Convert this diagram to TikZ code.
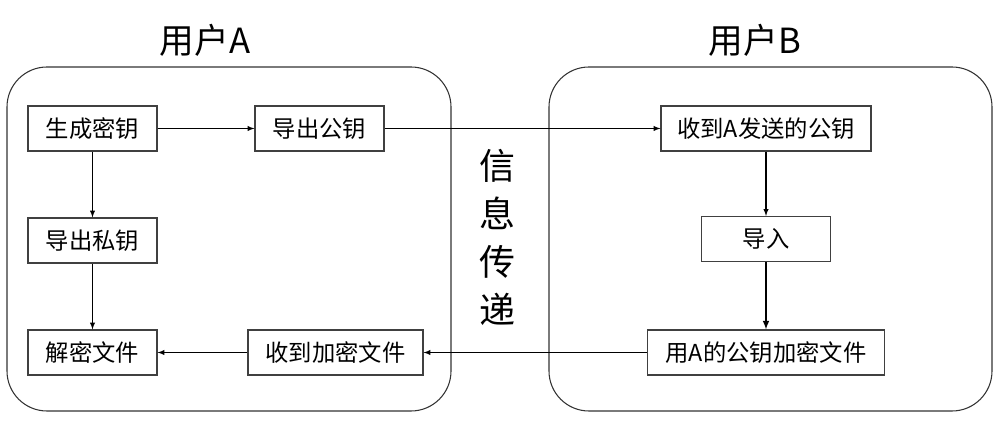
\documentclass[tikz,border=0pt]{standalone}
\usepackage{fontspec}
\setmainfont{Noto Sans CJK SC}
\usetikzlibrary{arrows}
\tikzset{
  stepbox/.style={draw=black!75, line width=0.8pt, inner sep=0pt, minimum height=33.75pt,
    font=\fontsize{17.5}{17.5}\selectfont},
  userbox/.style={draw=black!80, line width=0.8pt, rounded corners=30pt},
  flow/.style={-latex, line width=0.8pt},
}
\begin{document}
\begin{tikzpicture}[x=0.75pt,y=0.75pt,yscale=-1,xscale=1]
\useasboundingbox (0,0) rectangle (1007,423);

%Shape: Rounded Rect [user A]
\draw [userbox] (7,67) rectangle (451,411);
%Shape: Rounded Rect [user B]
\draw [userbox] (549,67) rectangle (992,411);

% Text Node
\node [font=\fontsize{26}{26}\selectfont] (titleA) at (205,40) {用户A};
% Text Node
\node [font=\fontsize{26}{26}\selectfont] (titleB) at (755,40) {用户B};
% Text Node
\node [font=\fontsize{27}{36}\selectfont, align=center] (trans) at (497,237) {信\\息\\传\\递};

% user A
\node [stepbox, minimum width=96.75pt] (genkey) at (92.5,128.5) {生成密钥};
\node [stepbox, minimum width=96.75pt] (pubout) at (319.5,128.5) {导出公钥};
\node [stepbox, minimum width=96.75pt] (privout) at (92.5,240.5) {导出私钥};
\node [stepbox, minimum width=96.75pt] (decrypt) at (92.5,352.5) {解密文件};
\node [stepbox, minimum width=131.25pt] (recvfile) at (335.5,352.5) {收到加密文件};

% user B
\node [stepbox, minimum width=157.5pt] (recvkey) at (766,128.5) {收到A发送的公钥};
\node [stepbox, minimum width=96.75pt] (import) at (766,239) {导入};
\node [stepbox, minimum width=177.75pt] (encrypt) at (766,352.5) {用A的公钥加密文件};

%Arrows
\draw [flow] (genkey) -- (pubout);
\draw [flow] (genkey) -- (privout);
\draw [flow] (privout) -- (decrypt);
\draw [flow] (pubout) -- (recvkey);
\draw [flow] (recvkey) -- (import);
\draw [flow, line width=1.2pt] (import) -- (encrypt);
\draw [flow] (encrypt) -- (recvfile);
\draw [flow] (recvfile) -- (decrypt);

\end{tikzpicture}
\end{document}
